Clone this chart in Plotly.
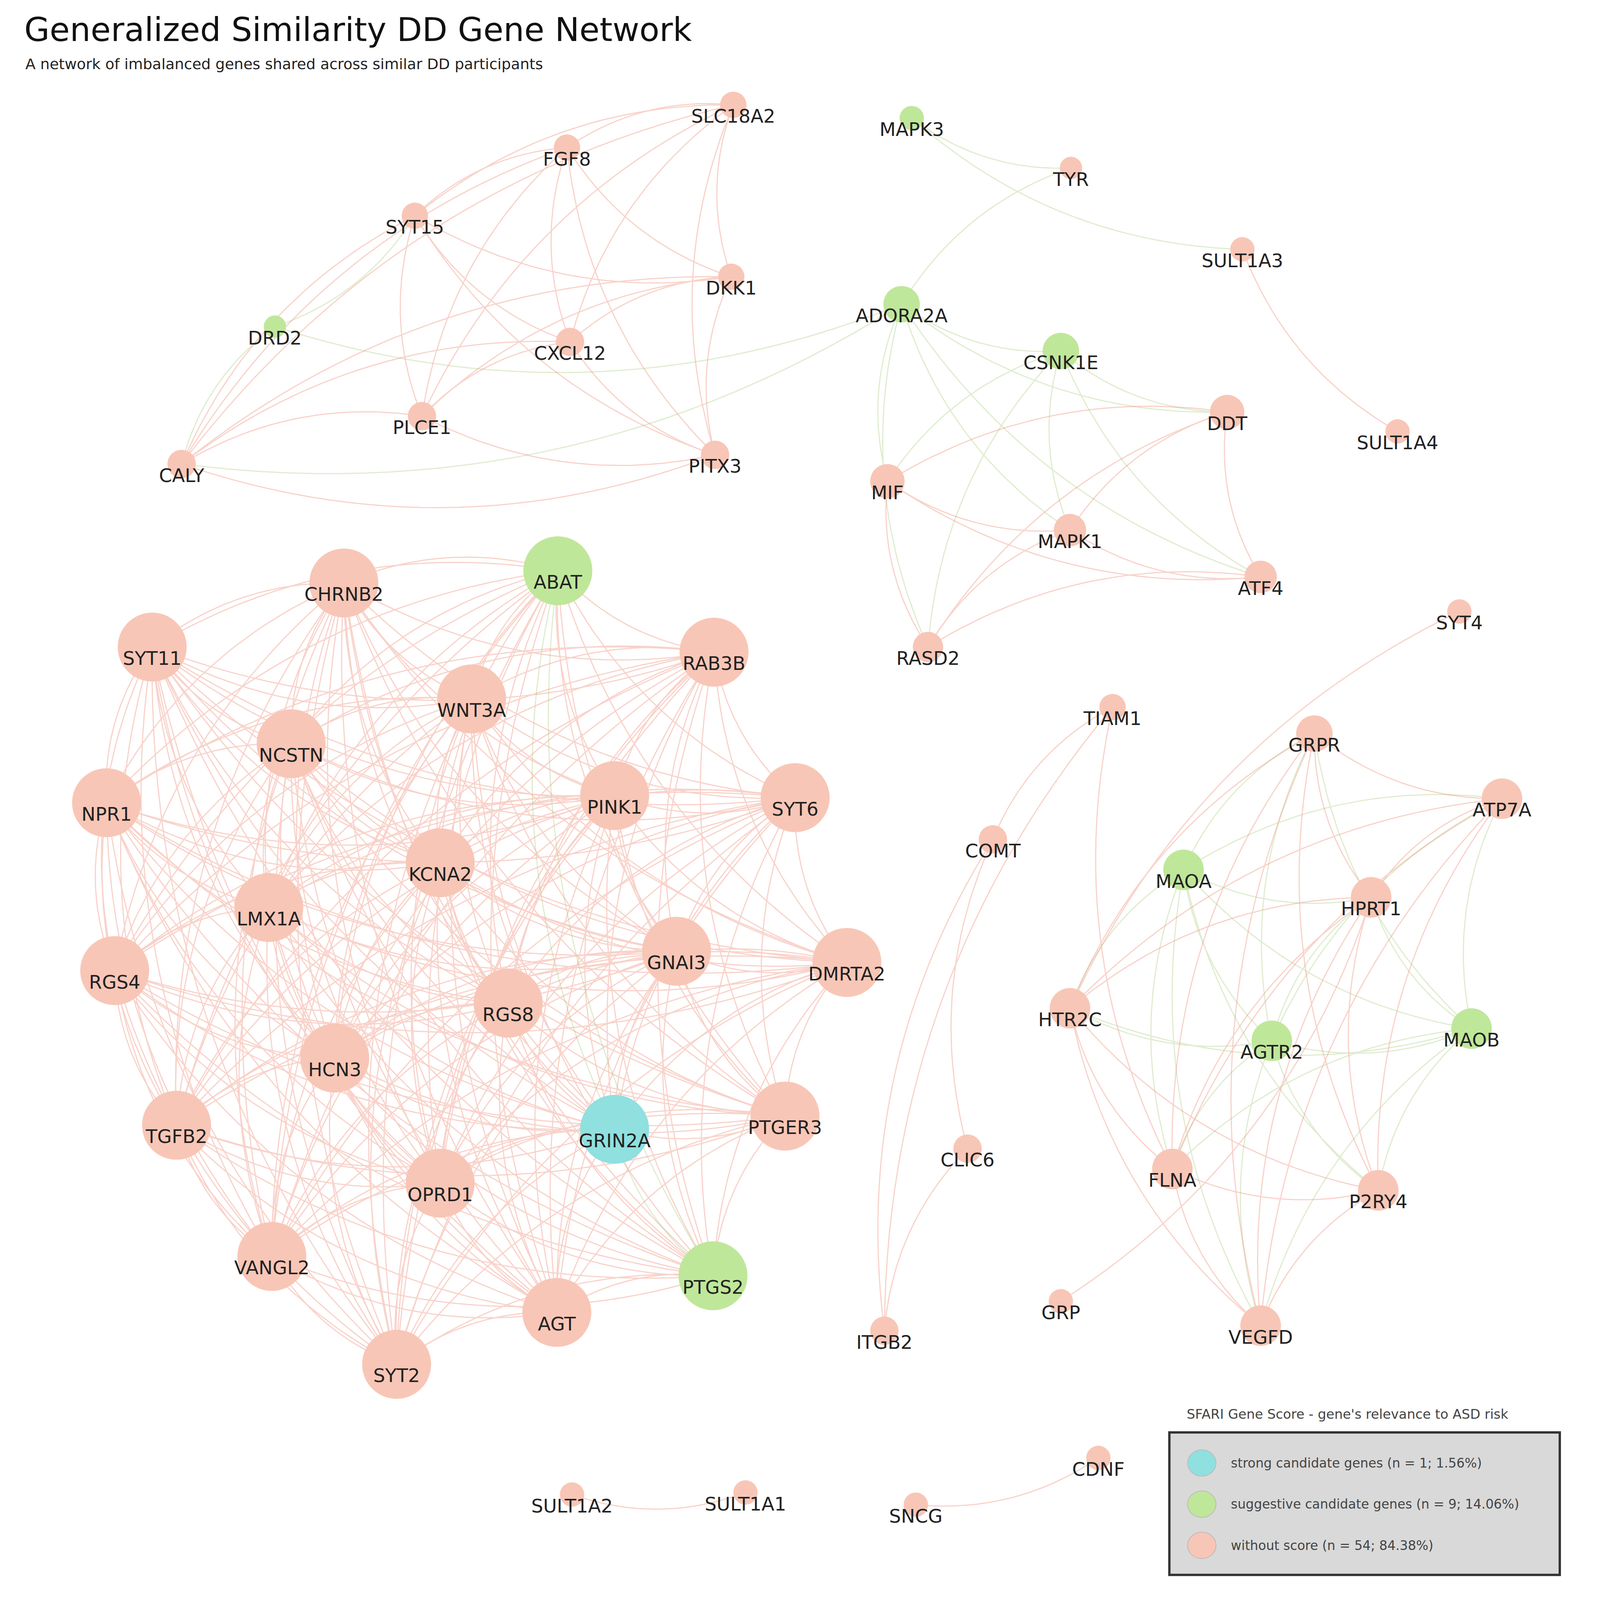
import itertools
import numpy as np
import plotly.graph_objects as go

# node data (layout coordinates, y grows downward)
genes = ["SLC18A2", "FGF8", "SYT15", "DKK1", "DRD2", "CXCL12", "PLCE1", "CALY", "PITX3",
         "MAPK3", "TYR", "SULT1A3", "ADORA2A", "CSNK1E", "DDT", "SULT1A4", "MIF", "MAPK1", "ATF4", "RASD2",
         "ABAT", "CHRNB2", "SYT11", "RAB3B", "WNT3A", "NCSTN", "NPR1", "PINK1", "SYT6", "KCNA2",
         "LMX1A", "RGS4", "GNAI3", "DMRTA2", "RGS8", "HCN3", "TGFB2", "GRIN2A", "PTGER3", "OPRD1",
         "VANGL2", "PTGS2", "AGT", "SYT2",
         "SYT4", "TIAM1", "GRPR", "ATP7A", "COMT", "MAOA", "HPRT1", "HTR2C", "AGTR2", "MAOB",
         "CLIC6", "FLNA", "P2RY4", "GRP", "VEGFD", "ITGB2",
         "SULT1A2", "SULT1A1", "SNCG", "CDNF"]
node_x = [720, 556, 406, 718, 268, 559, 413, 176, 702,
          896, 1053, 1222, 886, 1043, 1207, 1375, 872, 1052, 1240, 912,
          547, 336, 147, 701, 462, 284, 102, 603, 781, 431,
          262, 110, 664, 832, 498, 327, 171, 603, 771, 431,
          265, 700, 546, 388,
          1436, 1094, 1293, 1478, 976, 1164, 1349, 1052, 1251, 1448,
          951, 1153, 1356, 1043, 1240, 869,
          561, 732, 900, 1080]
node_y = [100, 142, 209, 269, 318, 333, 406, 453, 444,
          113, 162, 242, 296, 342, 402, 421, 470, 518, 564, 633,
          558, 570, 633, 638, 684, 728, 786, 779, 781, 845,
          889, 951, 932, 943, 983, 1037, 1103, 1107, 1094, 1160,
          1232, 1251, 1287, 1338,
          598, 692, 718, 782, 822, 852, 879, 988, 1020, 1008,
          1126, 1146, 1167, 1276, 1300, 1305,
          1466, 1464, 1476, 1430]
node_r = [13, 13, 13, 13, 11, 14, 14, 14, 14,
          12, 11, 12, 18, 18, 17, 12, 17, 16, 16, 15,
          34, 34, 34, 34, 34, 34, 34, 34, 34, 34,
          34, 34, 34, 34, 34, 34, 34, 34, 34, 34,
          34, 34, 34, 34,
          12, 13, 18, 20, 14, 20, 20, 20, 20, 20,
          14, 20, 20, 12, 20, 14,
          12, 12, 12, 12]
strong = ["GRIN2A"]
suggestive = ["DRD2", "MAPK3", "ADORA2A", "CSNK1E", "ABAT", "PTGS2", "MAOA", "AGTR2", "MAOB"]

cluster_tl = ["SLC18A2", "FGF8", "SYT15", "DKK1", "CXCL12", "PLCE1", "CALY", "PITX3"]
cluster_big = genes[20:44]
cluster_tr = ["ADORA2A", "CSNK1E", "DDT", "MIF", "MAPK1", "ATF4", "RASD2"]
cluster_r = ["GRPR", "ATP7A", "MAOA", "HPRT1", "HTR2C", "AGTR2", "MAOB", "FLNA", "P2RY4", "VEGFD"]
extra_edges = [("DRD2", "CALY"), ("DRD2", "SYT15"), ("DRD2", "ADORA2A"), ("CALY", "ADORA2A"),
               ("MAPK3", "SULT1A3"), ("MAPK3", "TYR"), ("TYR", "ADORA2A"), ("SULT1A3", "SULT1A4"),
               ("TIAM1", "COMT"), ("TIAM1", "ITGB2"), ("COMT", "CLIC6"), ("COMT", "ITGB2"),
               ("CLIC6", "ITGB2"), ("SYT4", "HTR2C"), ("GRP", "HPRT1"), ("TIAM1", "FLNA"),
               ("SULT1A2", "SULT1A1"), ("SNCG", "CDNF")]

legend_labels = ["strong candidate genes (n = 1; 1.56%)",
                 "suggestive candidate genes (n = 9; 14.06%)",
                 "without score (n = 54; 84.38%)"]

PINK, GREEN, CYAN = "#f8c6b6", "#bfe79a", "#8fe0df"
XMAX, YMAX = 1597, 1610
S = 4146 / XMAX  # picture px per layout unit
pos = {g: (x, y) for g, x, y in zip(genes, node_x, node_y)}


def col(g):
    return CYAN if g in strong else GREEN if g in suggestive else PINK


edges = []
for cl in (cluster_tl, cluster_big, cluster_tr, cluster_r):
    edges += list(itertools.combinations(cl, 2))
edges += extra_edges


def curve(a, b, k=0.18):
    (x0, y0), (x1, y1) = pos[a], pos[b]
    mx, my = (x0 + x1) / 2, (y0 + y1) / 2
    cx, cy = mx - (y1 - y0) * k, my + (x1 - x0) * k
    t = np.linspace(0, 1, 30)
    xs = (1 - t) ** 2 * x0 + 2 * (1 - t) * t * cx + t ** 2 * x1
    ys = (1 - t) ** 2 * y0 + 2 * (1 - t) * t * cy + t ** 2 * y1
    return list(xs) + [None], list(ys) + [None]


fig = go.Figure()
for kind, color, op in (("green", "rgb(185,215,150)", 0.45), ("pink", "rgb(240,150,130)", 0.42)):
    ex, ey = [], []
    for a, b in edges:
        # inside the big cluster most edges are drawn pink; green only when both ends are scored
        ga = a in suggestive or a in strong
        gb = b in suggestive or b in strong
        g = (ga and gb) if a in cluster_big else (ga or gb)
        if (kind == "green") == g:
            xs, ys = curve(a, b)
            ex += xs
            ey += ys
    fig.add_trace(go.Scatter(x=ex, y=ey, mode="lines", opacity=op,
                             line=dict(color=color, width=3), hoverinfo="skip"))

fig.add_trace(go.Scatter(
    x=node_x, y=node_y, mode="markers",
    marker=dict(size=[2 * r * S for r in node_r], color=[col(g) for g in genes],
                line=dict(width=0), opacity=1),
    hovertext=genes))
fig.add_trace(go.Scatter(
    x=node_x, y=[y + 13 for y in node_y], mode="text", text=genes,
    textfont=dict(family="DejaVu Sans", size=48, color="#222")))

# legend drawn as annotations/shapes
fig.add_shape(type="rect", x0=1150, x1=1535, y0=1405, y1=1545, fillcolor="#d9d9d9",
              line=dict(color="#333", width=6))
fig.add_annotation(x=1326, y=1387, text="SFARI Gene Score - gene's relevance to ASD risk",
                   showarrow=False, font=dict(family="DejaVu Sans", size=34, color="#444"))
for i, (lab, c) in enumerate(zip(legend_labels, [CYAN, GREEN, PINK])):
    yy = 1435 + i * 40.5
    fig.add_shape(type="circle", x0=1168, x1=1196, y0=yy - 13, y1=yy + 13, fillcolor=c,
                  line=dict(color="#bbb", width=2))
    fig.add_annotation(x=1210, y=yy, text=lab, xanchor="left", showarrow=False,
                       font=dict(family="DejaVu Sans", size=33, color="#444"))

fig.add_annotation(x=20, y=26, text="Generalized Similarity DD Gene Network",
                   xanchor="left", showarrow=False, font=dict(family="DejaVu Sans", size=84, color="#111"))
fig.add_annotation(x=21, y=60, text="A network of imbalanced genes shared across similar DD participants",
                   xanchor="left", showarrow=False, font=dict(family="DejaVu Sans", size=38, color="#222"))

fig.update_layout(width=4146, height=4193, margin=dict(l=0, r=0, t=0, b=0),
                  plot_bgcolor="white", paper_bgcolor="white", showlegend=False,
                  xaxis=dict(range=[0, XMAX], visible=False),
                  yaxis=dict(range=[YMAX, 0], visible=False))
fig.write_html("out.html")
